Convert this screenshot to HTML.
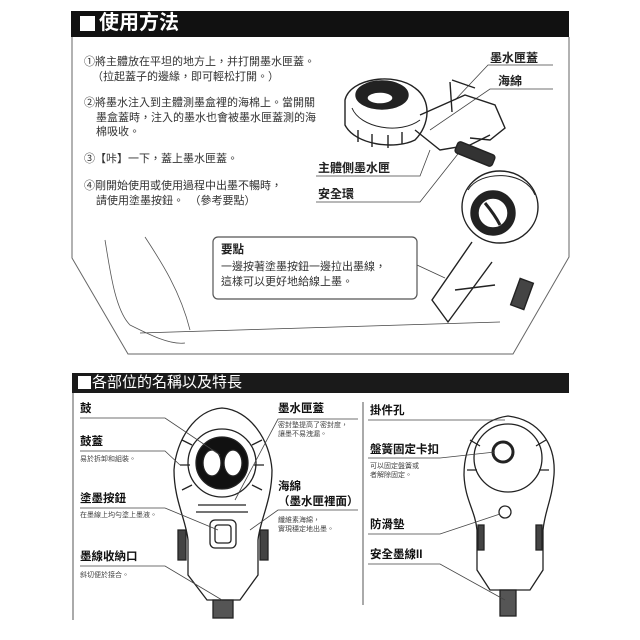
<!DOCTYPE html>
<html><head><meta charset="utf-8"><style>
body{margin:0;background:#fff;width:640px;height:640px;overflow:hidden;position:relative;font-family:"Liberation Sans","Noto Sans CJK TC",sans-serif;color:#222}
.t{position:absolute;white-space:nowrap;line-height:1}
.s{font-size:11px;color:#333}
.l{font-size:11.5px;font-weight:bold;color:#111}
.x{font-size:7px;color:#444}
</style></head><body>
<svg width="640" height="640" style="position:absolute;left:0;top:0" fill="none" stroke="#222">
<rect x="71" y="11" width="498" height="26" fill="#111" stroke="none"/>
<rect x="80" y="16" width="15" height="15" fill="#fff" stroke="none"/>
<polyline points="72,37 72,258 128,354 513,354 569,257 569,37" stroke="#666" stroke-width="1"/>
<rect x="72" y="373" width="497" height="20" fill="#1a1a1a" stroke="none"/>
<rect x="78" y="376" width="13" height="13" fill="#fff" stroke="none"/>
<line x1="73" y1="393" x2="73" y2="620" stroke="#555"/>
<line x1="363" y1="402" x2="363" y2="605" stroke="#555"/>
<g stroke="#444" stroke-width="0.8">
<polyline points="553,65 488,65 455,100"/>
<polyline points="553,89 490,89 430,130"/>
<polyline points="316,176 420,176 430,150"/>
<polyline points="316,202 420,202 465,145"/>
<line x1="140" y1="333" x2="500" y2="322"/>
<line x1="417" y1="265" x2="445" y2="278"/>
</g>
<rect x="213" y="237" width="204" height="62" rx="5" stroke="#555" stroke-width="1.2"/>
<g stroke="#555" stroke-width="0.8">
<path d="M105,240 C110,270 115,310 130,325 C150,335 170,345 185,343"/>
<path d="M145,237 C160,260 180,290 190,330"/>
</g>
<!-- top device left -->
<g stroke="#222" stroke-width="1.4">
<path d="M345,100 C350,78 395,72 415,88 C432,100 430,125 415,140 C395,150 355,145 345,125Z"/>
<path d="M352,108 C360,128 400,135 420,120" stroke-width="1"/>
<path d="M358,130 v12 M372,134 v13 M388,135 v13 M402,132 v12"/>
<ellipse cx="382" cy="95" rx="26" ry="14" fill="#222"/>
<ellipse cx="380" cy="98" rx="13" ry="6" fill="#fff"/>
<path d="M415,130 L440,150 L470,145 L490,135"/>
<path d="M420,115 L465,95 L495,105 L505,128 L490,140 L470,138"/>
<path d="M450,82 L452,112 M452,80 L475,88"/>
<rect x="455" y="148" width="40" height="12" rx="3" transform="rotate(22 475 154)" fill="#333"/>
<!-- lower device -->
<ellipse cx="500" cy="207" rx="38" ry="36"/>
<path d="M468,190 C480,170 525,170 535,195" stroke-width="1"/>
<circle cx="493" cy="213" r="22" fill="#222"/>
<circle cx="493" cy="213" r="15" fill="#fff"/>
<path d="M485,203 Q495,215 500,225" stroke-width="3"/>
<path d="M472,242 L432,300 L448,322 L492,262"/>
<path d="M455,290 L495,285"/>
<rect x="515" y="280" width="14" height="28" transform="rotate(20 522 294)" fill="#444"/>
</g>
<!-- bottom center device -->
<g stroke="#222" stroke-width="1.3">
<path d="M222,408 C250,410 270,440 272,470 C272,500 260,520 258,540 L258,575 L240,600 L207,600 L188,575 L188,540 C186,520 174,500 174,470 C176,440 195,410 222,408Z"/>
<path d="M182,440 l10,5 M180,465 l10,0 M182,490 l10,-5 M262,440 l-10,5 M264,465 l-10,0 M262,490 l-10,-5"/>
<circle cx="222" cy="463" r="34"/>
<circle cx="222" cy="463" r="26" fill="#111"/>
<ellipse cx="212" cy="463" rx="9" ry="13" fill="#fff"/>
<ellipse cx="233" cy="463" rx="9" ry="13" fill="#fff"/>
<path d="M198,505 L246,505 M196,512 L248,512"/>
<rect x="210" y="520" width="26" height="28" rx="5"/>
<rect x="215" y="525" width="16" height="18" rx="3"/>
<rect x="213" y="600" width="20" height="18" fill="#555"/>
<path d="M178,530 h8 v30 h-8z M260,530 h8 v30 h-8z" fill="#444"/>
</g>
<g stroke="#444" stroke-width="0.8">
<polyline points="80,418 165,418 220,455"/>
<polyline points="80,451 165,451 180,465"/>
<polyline points="80,508 165,508 218,530"/>
<polyline points="80,566 165,566 222,600"/>
<polyline points="358,419 278,419 235,500"/>
<polyline points="358,510 278,510 250,530"/>
</g>
<!-- bottom right device -->
<g stroke="#222" stroke-width="1.3">
<path d="M508,416 C540,420 556,445 554,475 C552,500 545,510 543,530 L543,570 L530,590 L490,590 L477,570 L477,530 C475,510 465,500 464,475 C464,445 478,420 508,416Z"/>
<path d="M470,440 l10,6 M467,470 l10,0 M546,440 l-10,6 M549,470 l-10,0"/>
<circle cx="508" cy="458" r="34"/>
<circle cx="503" cy="452" r="10" stroke-width="3"/>
<circle cx="505" cy="512" r="6"/>
<path d="M478,525 h6 v25 h-6z M536,525 h6 v25 h-6z" fill="#444"/>
<rect x="500" y="590" width="16" height="26" fill="#555"/>
</g>
<g stroke="#444" stroke-width="0.8">
<polyline points="368,420 440,420 505,420"/>
<polyline points="368,458 440,458 495,452"/>
<polyline points="368,534 440,534 500,514"/>
<polyline points="368,564 440,564 505,600"/>
</g>
</svg>
<div class="t" style="left:99px;top:13px;font-size:20px;font-weight:bold;color:#fff">使用方法</div>
<div class="t s" style="left:84px;top:57px">①將主體放在平坦的地方上，并打開墨水匣蓋。</div>
<div class="t s" style="left:92px;top:72px">（拉起蓋子的邊緣，即可輕松打開。）</div>
<div class="t s" style="left:84px;top:98px">②將墨水注入到主體測墨盒裡的海棉上。當開關</div>
<div class="t s" style="left:96px;top:113px">墨盒蓋時，注入的墨水也會被墨水匣蓋測的海</div>
<div class="t s" style="left:96px;top:127px">棉吸收。</div>
<div class="t s" style="left:84px;top:154px">③【咔】一下，蓋上墨水匣蓋。</div>
<div class="t s" style="left:84px;top:181px">④剛開始使用或使用過程中出墨不暢時，</div>
<div class="t s" style="left:96px;top:196px">請使用塗墨按鈕。　（參考要點）</div>
<div class="t" style="left:490px;top:52px;font-size:12px;font-weight:bold">墨水匣蓋</div>
<div class="t" style="left:498px;top:75px;font-size:12px;font-weight:bold">海綿</div>
<div class="t" style="left:318px;top:162px;font-size:12px;font-weight:bold">主體側墨水匣</div>
<div class="t" style="left:318px;top:188px;font-size:12px;font-weight:bold">安全環</div>
<div class="t" style="left:221px;top:245px;font-size:11.5px;font-weight:bold">要點</div>
<div class="t s" style="left:221px;top:262px">一邊按著塗墨按鈕一邊拉出墨線，</div>
<div class="t s" style="left:221px;top:277px">這樣可以更好地給線上墨。</div>
<div class="t" style="left:92px;top:375px;font-size:15px;color:#fff">各部位的名稱以及特長</div>
<div class="t l" style="left:80px;top:404px">鼓</div>
<div class="t l" style="left:80px;top:437px">鼓蓋</div>
<div class="t x" style="left:80px;top:456px">易於拆卸和組裝。</div>
<div class="t l" style="left:80px;top:494px">塗墨按鈕</div>
<div class="t x" style="left:80px;top:512px">在墨線上均勻塗上墨液。</div>
<div class="t l" style="left:80px;top:552px">墨線收納口</div>
<div class="t x" style="left:80px;top:572px">斜切便於接合。</div>
<div class="t l" style="left:278px;top:404px">墨水匣蓋</div>
<div class="t x" style="left:278px;top:422px">密封墊提高了密封度，</div>
<div class="t x" style="left:278px;top:431px">讓墨不易洩漏。</div>
<div class="t l" style="left:278px;top:482px">海綿</div>
<div class="t l" style="left:278px;top:497px">（墨水匣裡面）</div>
<div class="t x" style="left:278px;top:517px">纖維素海綿，</div>
<div class="t x" style="left:278px;top:526px">實現穩定地出墨。</div>
<div class="t l" style="left:370px;top:406px">掛件孔</div>
<div class="t l" style="left:370px;top:445px">盤簧固定卡扣</div>
<div class="t x" style="left:370px;top:463px">可以固定盤簧或</div>
<div class="t x" style="left:370px;top:472px">者解除固定。</div>
<div class="t l" style="left:370px;top:520px">防滑墊</div>
<div class="t l" style="left:370px;top:550px">安全墨線II</div>
</body></html>
